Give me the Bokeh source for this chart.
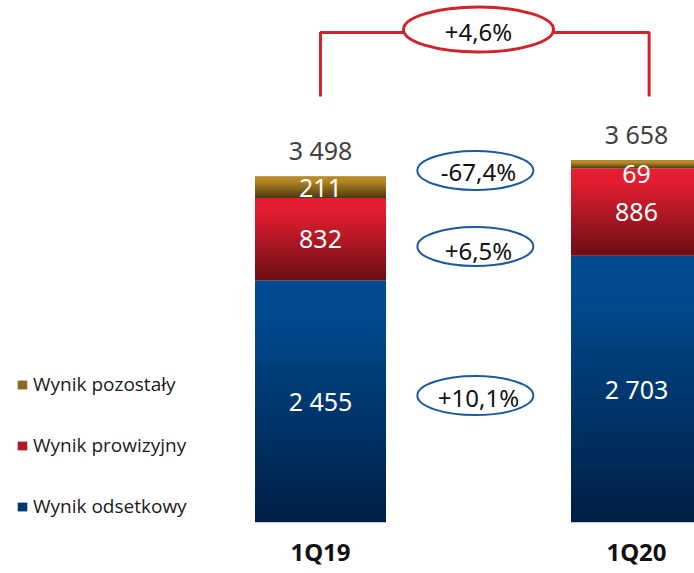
from bokeh.plotting import figure
from bokeh.models import ColumnDataSource, Range1d, FixedTicker, Legend, LegendItem
from bokeh.core.properties import value
from bokeh.embed import file_html
from bokeh.resources import INLINE

# ---------------- data ----------------
categories = ["1Q19", "1Q20"]
wynik_odsetkowy = [2455, 2703]
wynik_prowizyjny = [832, 886]
wynik_pozostaly = [211, 69]
totals = [3498, 3658]
series_names = ["Wynik odsetkowy", "Wynik prowizyjny", "Wynik pozostały"]
segment_changes = ["+10,1%", "+6,5%", "-67,4%"]
total_change = "+4,6%"

# ---------------- style / layout ----------------
gradients = {  # (bottom colour, top colour)
    "Wynik odsetkowy": ((0, 31, 68), (0, 74, 143)),
    "Wynik prowizyjny": ((106, 15, 22), (228, 30, 48)),
    "Wynik pozostały": ((76, 58, 18), (184, 138, 37)),
}
UNITS_PER_PX = 10.13
W, H = 694, 573
BOTTOM_BORDER = 51
frame_h = H - BOTTOM_BORDER
x0_px, step_px = 320, 316
bar_w = 131 / step_px
N_SLICES = 40

p = figure(width=W, height=H, output_backend="svg", toolbar_location=None,
           x_range=Range1d(-x0_px / step_px, (W - x0_px) / step_px),
           y_range=Range1d(0, frame_h * UNITS_PER_PX),
           min_border_left=0, min_border_right=0, min_border_top=0,
           min_border_bottom=BOTTOM_BORDER)
p.outline_line_color = None
p.xgrid.visible = False
p.ygrid.visible = False
p.yaxis.visible = False
p.background_fill_color = "white"
p.border_fill_color = "white"

xpos = list(range(len(categories)))
p.xaxis.ticker = FixedTicker(ticks=xpos)
p.xaxis.major_label_overrides = {i: c for i, c in zip(xpos, categories)}
p.xaxis.axis_line_color = None
p.xaxis.major_tick_line_color = None
p.xaxis.minor_tick_line_color = None
p.xaxis.major_tick_out = 0
p.xaxis.major_label_standoff = 12
p.xaxis.major_label_text_font = "Noto Sans"
p.xaxis.major_label_text_font_size = "24px"
p.xaxis.major_label_text_font_style = "bold"
p.xaxis.major_label_text_color = "#111111"


def lerp(c0, c1, t):
    return "#%02x%02x%02x" % tuple(int(round(a + (b - a) * t)) for a, b in zip(c0, c1))


series_values = [wynik_odsetkowy, wynik_prowizyjny, wynik_pozostaly]
renderers = {}
base = [0] * len(categories)
label_x, label_y, label_txt = [], [], []
overlap = 1.5 * UNITS_PER_PX
for name, vals in zip(series_names, series_values):
    c_bot, c_top = gradients[name]
    d = dict(left=[], right=[], bottom=[], top=[], color=[])
    for i, v in enumerate(vals):
        b = base[i]
        for k in range(N_SLICES):
            t0 = k / N_SLICES
            t1 = (k + 1) / N_SLICES
            d["left"].append(xpos[i] - bar_w / 2)
            d["right"].append(xpos[i] + bar_w / 2)
            d["bottom"].append(b + v * t0)
            d["top"].append(b + v * t1 + (overlap if k < N_SLICES - 1 else 0))
            tt = min(1.0, (t0 + t1) / 2 / 0.85)
            d["color"].append(lerp(c_bot, c_top, tt))
        label_x.append(xpos[i])
        label_y.append(b + v / 2)
        label_txt.append(f"{v:,}".replace(",", " "))
        base[i] += v
    r = p.quad(left="left", right="right", bottom="bottom", top="top",
               fill_color="color", line_color=None, source=ColumnDataSource(d))
    renderers[name] = r

# value labels inside bars (small segment label nudged down)
label_offsets = [0, 0, 0, 0, 0, 9]
p.text(x=label_x, y=label_y, text=label_txt, y_offset=label_offsets,
       text_align="center", text_baseline="middle", text_color="white",
       text_font=value("Noto Sans"), text_font_size="25px")

# totals above bars
p.text(x=xpos, y=totals, text=[f"{t:,}".replace(",", " ") for t in totals],
       y_offset=-27, text_align="center", text_baseline="middle",
       text_color="#404040", text_font=value("Noto Sans"), text_font_size="25px")

# red bracket and total change
br_low, br_high = 4315, 4964
p.line(x=[xpos[0], xpos[0], 1.04, 1.04], y=[br_low, br_high, br_high, br_low],
       line_color="#d2232a", line_width=3)
p.ellipse(x=[0.5], y=[4994], width=150, height=45, width_units="screen",
          height_units="screen", fill_color="white", line_color="#d2232a", line_width=3)
p.text(x=[0.5], y=[4974], text=[total_change], text_align="center",
       text_baseline="middle", text_color="#111111",
       text_font=value("Noto Sans"), text_font_size="24px")

# segment change ellipses
ell_y = [1286, 2796, 3566]
txt_y = [1266, 2756, 3556]
p.ellipse(x=[0.49] * 3, y=ell_y, width=116, height=39, width_units="screen",
          height_units="screen", fill_color="white", line_color="#1b5aa0", line_width=2)
p.text(x=[0.5] * 3, y=txt_y, text=segment_changes, text_align="center",
       text_baseline="middle", text_color="#111111",
       text_font=value("Noto Sans"), text_font_size="24px")

# legend
items = [LegendItem(label=n, renderers=[renderers[n]], index=N_SLICES // 2)
         for n in reversed(series_names)]
legend = Legend(items=items, location=(16, 3), orientation="vertical",
                spacing=35, padding=0, margin=0, border_line_color=None,
                background_fill_alpha=0, label_standoff=5, glyph_width=12,
                glyph_height=11, label_height=26,
                label_text_font="Open Sans", label_text_font_size="19px",
                label_text_color="#1a1a1a")
p.add_layout(legend)

open("out.html", "w").write(file_html(p, INLINE))
